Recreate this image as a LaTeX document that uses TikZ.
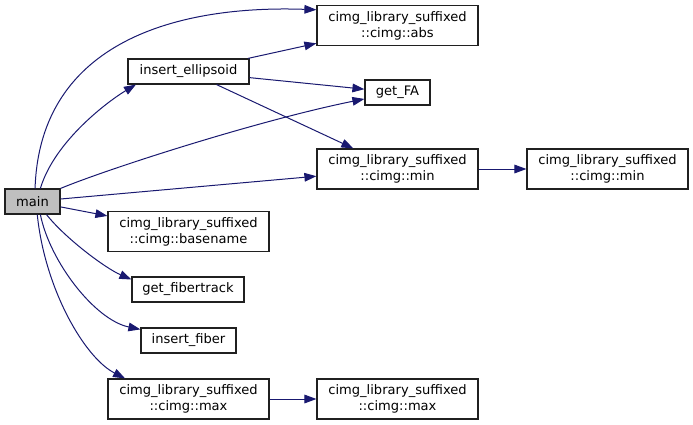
\documentclass[tikz,border=0pt]{standalone}
\usepackage{fontspec}
\setmainfont{DejaVu Sans}
\usetikzlibrary{arrows.meta}
\definecolor{edgeblue}{HTML}{191970}
\definecolor{maingray}{HTML}{BFBFBF}
\definecolor{boxline}{HTML}{202020}
\begin{document}
\begin{tikzpicture}[x=0.75pt,y=-0.75pt,
  fn/.style={draw=boxline, line width=0.9pt, fill=white, inner sep=0pt, align=center,
    font=\fontsize{9.8}{12}\selectfont, minimum height=25*0.75pt},
  two/.style={fn, minimum width=161*0.75pt, minimum height=40*0.75pt},
  call/.style={draw=edgeblue, line width=0.75pt, -{Triangle[length=9pt,width=6.5pt]}}]
\useasboundingbox (0,0) rectangle (693,425);
\node[fn, fill=maingray, minimum width=55*0.75pt] (main) at (32.5,201.5) {main};
\node[fn, minimum width=121*0.75pt] (ins) at (188.5,71.5) {insert\_ellipsoid};
\node[two] (abs) at (397.5,25.5) {cimg\_library\_suffixed\\::cimg::abs};
\node[fn, minimum width=65*0.75pt] (fa) at (397.5,92.5) {get\_FA};
\node[two] (minA) at (397.5,169) {cimg\_library\_suffixed\\::cimg::min};
\node[two] (minB) at (607.5,169) {cimg\_library\_suffixed\\::cimg::min};
\node[two] (base) at (188.5,231.5) {cimg\_library\_suffixed\\::cimg::basename};
\node[fn, minimum width=112*0.75pt] (track) at (188,289.5) {get\_fibertrack};
\node[fn, minimum width=95*0.75pt] (fiber) at (188.5,340.5) {insert\_fiber};
\node[two] (maxA) at (188.5,399) {cimg\_library\_suffixed\\::cimg::max};
\node[two] (maxB) at (397.5,399) {cimg\_library\_suffixed\\::cimg::max};

\draw[call] (main.79) .. controls (40,40) and (180,5) .. (abs.169);
\draw[call] (main.59) .. controls (55,140) and (110,100) .. (ins.194);
\draw[call] (main.north east) .. controls (110,168) and (260,120) .. (fa.191);
\draw[call] (main) -- (minA);
\draw[call] (main) -- (base);
\draw[call] (main.-43) .. controls (65,238) and (105,268) .. (track.170);
\draw[call] (main.-59) .. controls (50,262) and (95,320) .. (fiber.167);
\draw[call] (main.-70) .. controls (45,290) and (85,358) .. (maxA.162);
\draw[call] (ins) -- (abs);
\draw[call] (ins) -- (fa);
\draw[call] (ins) -- (minA);
\draw[call] (minA) -- (minB);
\draw[call] (maxA) -- (maxB);
\end{tikzpicture}
\end{document}
